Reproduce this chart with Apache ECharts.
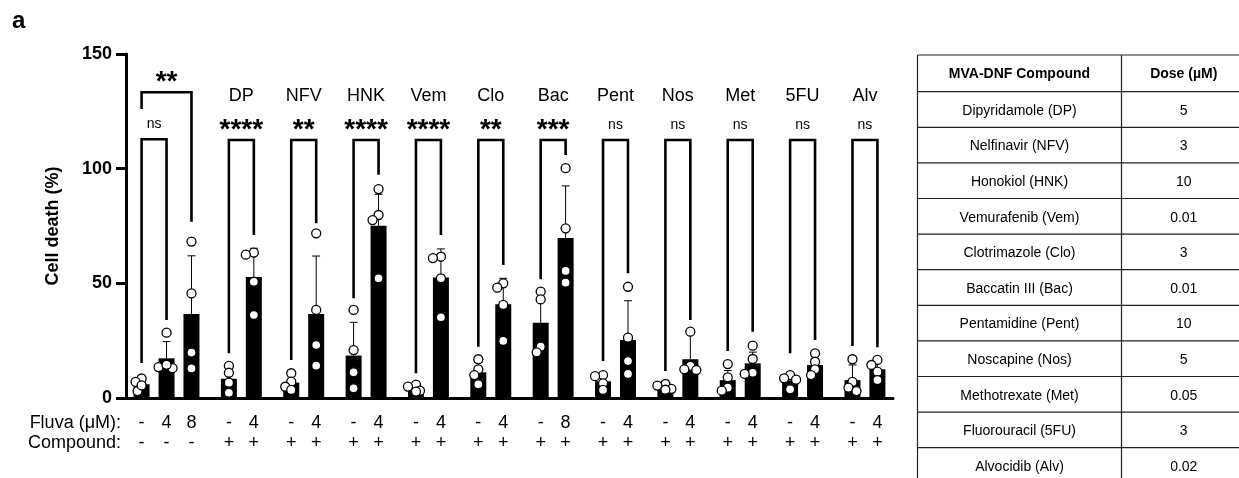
<!DOCTYPE html>
<html><head><meta charset="utf-8">
<script src="https://cdn.jsdelivr.net/npm/echarts@6/dist/echarts.min.js"></script>
<style>html,body{margin:0;padding:0;background:#fff}#c{width:1239px;height:478px}</style>
</head><body><div id="c"></div>
<script>
// ---------------- data ----------------
const groupLabels = ['', 'DP', 'NFV', 'HNK', 'Vem', 'Clo', 'Bac', 'Pent', 'Nos', 'Met', '5FU', 'Alv'];
const groupSizes  = [3, 2, 2, 2, 2, 2, 2, 2, 2, 2, 2, 2];
const fluvaRow    = ['-','4','8', '-','4', '-','4', '-','4', '-','4', '-','4', '-','8', '-','4', '-','4', '-','4', '-','4', '-','4'];
const compoundRow = ['-','-','-', '+','+', '+','+', '+','+', '+','+', '+','+', '+','+', '+','+', '+','+', '+','+', '+','+', '+','+'];
const barMeans    = [6.0, 17.3, 36.6, 8.4, 52.8, 6.7, 36.6, 18.5, 75.1, 4.2, 52.5, 11.2, 40.9, 32.8, 69.8, 7.3, 25.3, 4.8, 16.9, 7.8, 15.1, 7.6, 14.4, 7.8, 12.5];
const errTops     = [8.5, 24.6, 62.0, 13.0, 65.3, 9.5, 61.9, 33.0, 88.8, 5.5, 65.0, 15.5, 52.2, 46.0, 92.5, 10.0, 42.4, 6.0, 27.9, 12.0, 20.0, 9.5, 18.5, 14.4, 16.0];
const replicates  = [
  [8.5, 7.0, 3.0, 5.5],
  [28.5, 13.5, 13.0, 14.5],
  [68.2, 45.6, 19.8, 12.9],
  [14.0, 11.0, 6.7, 2.3],
  [63.4, 62.5, 50.7, 36.2],
  [10.8, 7.1, 4.9, 3.5],
  [71.8, 38.4, 23.1, 14.1],
  [38.4, 20.9, 11.2, 4.2],
  [91.1, 79.8, 77.6, 52.2],
  [5.8, 5.0, 3.2, 2.8],
  [61.6, 61.0, 52.2, 35.2],
  [16.9, 12.5, 10.0, 6.0],
  [50.0, 48.1, 40.6, 24.9],
  [46.4, 43.0, 22.4, 19.9],
  [100.2, 74.0, 55.4, 50.3],
  [10.0, 9.5, 6.4, 3.5],
  [48.5, 26.3, 16.1, 10.5],
  [6.1, 5.4, 4.0, 3.6],
  [28.9, 14.0, 12.5, 12.2],
  [14.8, 9.0, 4.5, 3.2],
  [22.8, 17.0, 11.0, 10.5],
  [10.0, 8.6, 8.0, 3.8],
  [19.5, 15.8, 12.5, 10.0],
  [16.9, 7.0, 4.5, 3.0],
  [16.6, 14.4, 11.5, 7.8]
];
// significance brackets (bar indices, leg ends, top, text)
const bracketFrom   = [0, 0, 3, 5, 7, 9, 11, 13, 15, 17, 19, 21, 23];
const bracketTo     = [1, 2, 4, 6, 8, 10, 12, 14, 16, 18, 20, 22, 24];
const bracketLeftY  = [15.3, 126.0, 19.5, 16.6, 43.5, 10.8, 22.4, 51.8, 16.1, 11.8, 20.5, 19.5, 22.7];
const bracketRightY = [34.0, 76.9, 71.1, 76.2, 97.3, 71.1, 58.0, 106.0, 54.4, 34.0, 28.9, 25.3, 22.1];
const bracketTopY   = [112.8, 133.3, 112.5, 112.5, 112.5, 112.5, 112.5, 112.5, 112.5, 112.5, 112.5, 112.5, 112.5];
const bracketText   = ['ns', '**', '****', '**', '****', '****', '**', '***', 'ns', 'ns', 'ns', 'ns', 'ns'];
// table
const tableHeader = ['MVA-DNF Compound', 'Dose (µM)'];
const tableCompounds = ['Dipyridamole (DP)', 'Nelfinavir (NFV)', 'Honokiol (HNK)', 'Vemurafenib (Vem)', 'Clotrimazole (Clo)', 'Baccatin III (Bac)', 'Pentamidine (Pent)', 'Noscapine (Nos)', 'Methotrexate (Met)', 'Fluorouracil (5FU)', 'Alvocidib (Alv)'];
const tableDoses = ['5', '3', '10', '0.01', '3', '0.01', '10', '5', '0.05', '3', '0.02'];

// ---------------- layout helpers ----------------
const FONT = '"Liberation Sans", Arial, Helvetica, sans-serif';
const slotIdx = [];
const barGroup = [];
(function () {
  let s = 2;
  groupSizes.forEach((n, g) => {
    for (let k = 0; k < n; k++) { slotIdx.push(s); barGroup.push(g); s += (k < n - 1) ? 4 : 6; }
  });
})();
const nCats = slotIdx[slotIdx.length - 1] + 3;
const cats = Array.from({length: nCats}, (_, i) => 'c' + i);
const labelAt = {};
slotIdx.forEach((s, b) => { labelAt[s] = b; });

const barData = cats.map(() => '-');
slotIdx.forEach((s, b) => { barData[s] = barMeans[b]; });

const pointData = [];
replicates.forEach((arr, b) => arr.forEach((v, r) => pointData.push([slotIdx[b], v, b, r])));

const errData = barMeans.map((m, b) => [slotIdx[b], m, errTops[b]]);
const bracketData = bracketFrom.map((f, i) => [slotIdx[f], slotIdx[bracketTo[i]], bracketLeftY[i], bracketRightY[i], bracketTopY[i]]);

const groupLabelData = [];
groupLabels.forEach((lab, g) => {
  if (!lab) return;
  const idx = slotIdx.filter((s, b) => barGroup[b] === g);
  groupLabelData.push([(idx[0] + idx[idx.length - 1]) / 2, 132, g]);
});

// deterministic dodge (beeswarm) of replicate circles, in pixel space
function dodgeOffsets(pxYs) {
  const order = pxYs.map((y, i) => i).sort((a, b) => pxYs[a] - pxYs[b]);
  const placed = [];
  const off = new Array(pxYs.length).fill(0);
  const cand = [0, -4, 4, -6, 6, -8, 8];
  const minD = 6.5;
  order.forEach(i => {
    for (const c of cand) {
      const ok = placed.every(p => Math.hypot(p[0] - c, p[1] - pxYs[i]) >= minD);
      if (ok) { off[i] = c; placed.push([c, pxYs[i]]); return; }
    }
    placed.push([0, pxYs[i]]);
  });
  return off;
}

// table graphics
const tbl = [];
const tL = 917.5, tDiv = 1121.5, tR = 1246, tTop = 55, hH = 36.7, rH = 35.6;
const rowsBottom = tTop + hH + rH * tableCompounds.length;
const lineStyle = {stroke: '#222', lineWidth: 1.2};
tbl.push({type: 'line', shape: {x1: tL, y1: tTop, x2: tR, y2: tTop}, style: lineStyle});
tbl.push({type: 'line', shape: {x1: tL, y1: tTop, x2: tL, y2: rowsBottom}, style: lineStyle});
tbl.push({type: 'line', shape: {x1: tDiv, y1: tTop, x2: tDiv, y2: rowsBottom}, style: lineStyle});
tbl.push({type: 'line', shape: {x1: tR, y1: tTop, x2: tR, y2: rowsBottom}, style: lineStyle});
tbl.push({type: 'text', x: (tL + tDiv) / 2, y: tTop + hH / 2 + 1, style: {text: tableHeader[0], font: 'bold 14px ' + FONT, fill: '#000', align: 'center', verticalAlign: 'middle'}});
tbl.push({type: 'text', x: (tDiv + tR) / 2, y: tTop + hH / 2 + 1, style: {text: tableHeader[1], font: 'bold 14px ' + FONT, fill: '#000', align: 'center', verticalAlign: 'middle'}});
tableCompounds.forEach((name, i) => {
  const y0 = tTop + hH + rH * i;
  tbl.push({type: 'line', shape: {x1: tL, y1: y0, x2: tR, y2: y0}, style: lineStyle});
  tbl.push({type: 'text', x: (tL + tDiv) / 2, y: y0 + rH / 2 + 1.5, style: {text: name, font: '14px ' + FONT, fill: '#000', align: 'center', verticalAlign: 'middle'}});
  tbl.push({type: 'text', x: (tDiv + tR) / 2, y: y0 + rH / 2 + 1.5, style: {text: tableDoses[i], font: '14px ' + FONT, fill: '#000', align: 'center', verticalAlign: 'middle'}});
});

const chart = echarts.init(document.getElementById('c'), null, {renderer: 'canvas'});
chart.setOption({
  backgroundColor: '#fff',
  animation: false,
  grid: {left: 126, right: 346, top: 54, bottom: 80},
  xAxis: {
    type: 'category', data: cats, boundaryGap: true,
    axisLine: {show: true, lineStyle: {color: '#000', width: 3}},
    axisTick: {show: false},
    splitLine: {show: false},
    axisLabel: {
      interval: 0, margin: 15, color: '#000',
      formatter: function (v, i) {
        const b = labelAt[i];
        if (b === undefined) return '';
        return '{a|' + fluvaRow[b] + '}\n{a|' + compoundRow[b] + '}';
      },
      rich: {a: {fontFamily: FONT, fontSize: 18, lineHeight: 20, color: '#000'}}
    }
  },
  yAxis: {
    type: 'value', min: 0, max: 150, interval: 50,
    name: 'Cell death (%)', nameLocation: 'middle', nameRotate: 90, nameGap: 64,
    nameTextStyle: {fontFamily: FONT, fontWeight: 'bold', fontSize: 18, color: '#000'},
    axisLine: {show: true, lineStyle: {color: '#000', width: 3}},
    axisTick: {show: true, length: 10, lineStyle: {color: '#000', width: 3}},
    axisLabel: {fontFamily: FONT, fontWeight: 'bold', fontSize: 18, color: '#000', margin: 14},
    splitLine: {show: false}
  },
  graphic: [
    {type: 'text', x: 12, y: 21, style: {text: 'a', font: 'bold 24px ' + FONT, fill: '#000', verticalAlign: 'middle'}},
    {type: 'text', x: 121, y: 423, style: {text: 'Fluva (μM):', font: '18px ' + FONT, fill: '#000', align: 'right', verticalAlign: 'middle'}},
    {type: 'text', x: 121, y: 443, style: {text: 'Compound:', font: '18px ' + FONT, fill: '#000', align: 'right', verticalAlign: 'middle'}}
  ].concat(tbl),
  series: [
    {type: 'bar', data: barData, barWidth: 16, itemStyle: {color: '#000'}, z: 2, silent: true},
    {
      type: 'custom', z: 3, data: errData, encode: {x: 0, y: [1, 2]},
      renderItem: function (params, api) {
        const p0 = api.coord([api.value(0), api.value(1)]);
        const p1 = api.coord([api.value(0), api.value(2)]);
        const st = {stroke: '#000', lineWidth: 1};
        return {type: 'group', children: [
          {type: 'line', shape: {x1: p0[0], y1: p0[1], x2: p1[0], y2: p1[1]}, style: st},
          {type: 'line', shape: {x1: p1[0] - 4, y1: p1[1], x2: p1[0] + 4, y2: p1[1]}, style: st}
        ]};
      }
    },
    {
      type: 'custom', z: 4, data: pointData, encode: {x: 0, y: 1},
      renderItem: function (params, api) {
        const slot = api.value(0), b = api.value(2), r = api.value(3);
        const ys = replicates[b].map(v => api.coord([slot, v])[1]);
        const off = dodgeOffsets(ys);
        const p = api.coord([slot, api.value(1)]);
        return {type: 'circle', shape: {cx: p[0] + off[r], cy: p[1], r: 4.5},
          style: {fill: '#fff', stroke: '#000', lineWidth: 1.3}};
      }
    },
    {
      type: 'custom', z: 5, data: bracketData, encode: {x: [0, 1], y: [2, 3, 4]},
      renderItem: function (params, api) {
        const pl = api.coord([api.value(0), api.value(2)]);
        const pr = api.coord([api.value(1), api.value(3)]);
        const tl = api.coord([api.value(0), api.value(4)]);
        const tr = api.coord([api.value(1), api.value(4)]);
        const txt = bracketText[params.dataIndex];
        const isStar = txt.indexOf('*') >= 0;
        const cx = (tl[0] + tr[0]) / 2;
        return {type: 'group', children: [
          {type: 'polyline', shape: {points: [pl, tl, tr, pr]}, style: {stroke: '#000', lineWidth: 2.6, fill: null, lineJoin: 'miter'}},
          {type: 'text', x: cx, y: tl[1] - (isStar ? 10 : 15), style: {
            text: txt, fill: '#000', align: 'center', verticalAlign: 'middle',
            font: isStar ? 'bold 28px ' + FONT : '14px ' + FONT}}
        ]};
      }
    },
    {
      type: 'custom', z: 5, data: groupLabelData, encode: {x: 0, y: 1},
      renderItem: function (params, api) {
        const p = api.coord([api.value(0), api.value(1)]);
        return {type: 'text', x: p[0], y: p[1] + 1, style: {
          text: groupLabels[api.value(2)], fill: '#000', align: 'center', verticalAlign: 'middle', font: '18px ' + FONT}};
      }
    }
  ]
});
</script></body></html>
